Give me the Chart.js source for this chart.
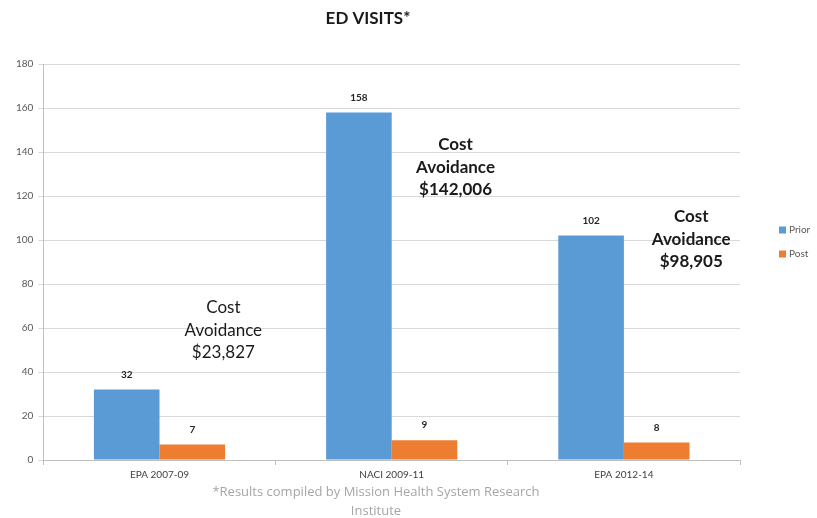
<!DOCTYPE html>
<html lang="en">
<head>
    <script src="https://cdn.jsdelivr.net/npm/chart.js"></script>
    <meta charset="UTF-8">
    <title>ED Visits</title>
    <style>
        body { margin: 0; background: #fff; }
        #wrap { width: 817px; height: 518px; }
    </style>
</head>
<body>
    <div id="wrap">
        <canvas id="myChart"></canvas>
    </div>
    <script>
        const categories = ['EPA 2007-09', 'NACI 2009-11', 'EPA 2012-14'];
        const seriesNames = ['Prior', 'Post'];
        const priorVals = [32, 158, 102];
        const postVals = [7, 9, 8];
        const savings = ['$23,827', '$142,006', '$98,905'];
        // where each "Cost Avoidance" note sits: category offset and y value of middle line
        const noteX = [0.275, 0.275, 0.29];
        const noteY = [59, 133, 100];
        const noteBold = [false, true, true];
        const colors = ['#5B9BD5', '#ED7D31'];

        const labelsPlugin = {
            id: 'labels',
            afterDatasetsDraw(chart) {
                const ctx = chart.ctx;
                const xs = chart.scales.x, ys = chart.scales.y;
                ctx.save();
                // values above bars
                ctx.fillStyle = '#262626';
                ctx.font = 'bold 10px Lato';
                ctx.textAlign = 'center';
                ctx.textBaseline = 'middle';
                chart.data.datasets.forEach((ds, i) => {
                    chart.getDatasetMeta(i).data.forEach((bar, j) => {
                        ctx.fillText(ds.data[j], bar.x, bar.y - 15);
                    });
                });
                // cost avoidance notes
                ctx.fillStyle = '#1a1a1a';
                savings.forEach((s, i) => {
                    const x = xs.getPixelForValue(i + noteX[i]);
                    const y = ys.getPixelForValue(noteY[i]);
                    ctx.font = (noteBold[i] ? 'bold ' : '') + '17px Lato';
                    ctx.fillText('Cost', x, y - 23);
                    ctx.fillText('Avoidance', x, y);
                    ctx.fillText(s, x, y + 22);
                });
                // legend
                ctx.textAlign = 'left';
                ctx.font = '10px Lato';
                seriesNames.forEach((n, i) => {
                    const y = 230 + i * 24;
                    ctx.fillStyle = colors[i];
                    ctx.fillRect(779, y - 3.5, 7, 7);
                    ctx.fillStyle = '#595959';
                    ctx.fillText(n, 789, y);
                });
                // title and footnote
                ctx.textAlign = 'center';
                ctx.font = 'bold 17px Lato';
                ctx.fillStyle = '#1a1a1a';
                ctx.fillText('ED VISITS*', 368, 19);
                ctx.font = '13px Open Sans';
                ctx.fillStyle = '#a6a6a6';
                ctx.fillText('*Results compiled by Mission Health System Research', 376, 492);
                ctx.fillText('Institute', 376, 511);
                ctx.restore();
            }
        };

        const ctx = document.getElementById('myChart');
        new Chart(ctx, {
            type: 'bar',
            data: {
                labels: categories,
                datasets: [{
                    label: seriesNames[0],
                    data: priorVals,
                    backgroundColor: colors[0],
                    barPercentage: 1,
                    categoryPercentage: 0.565
                }, {
                    label: seriesNames[1],
                    data: postVals,
                    backgroundColor: colors[1],
                    barPercentage: 1,
                    categoryPercentage: 0.565
                }]
            },
            options: {
                responsive: true,
                maintainAspectRatio: false,
                animation: false,
                layout: {
                    padding: { top: 64, left: 11, right: 77, bottom: 33 }
                },
                scales: {
                    x: {
                        grid: {
                            offset: true,
                            drawOnChartArea: false,
                            tickLength: 5,
                            color: '#bfbfbf'
                        },
                        border: { color: '#bfbfbf' },
                        ticks: {
                            color: '#404040',
                            font: { family: 'Lato', size: 10 },
                            padding: 4
                        }
                    },
                    y: {
                        min: 0,
                        max: 180,
                        ticks: {
                            stepSize: 20,
                            color: '#595959',
                            font: { family: 'Lato', size: 10 },
                            padding: 5
                        },
                        grid: {
                            color: '#d9d9d9',
                            tickLength: 5
                        },
                        border: { color: '#bfbfbf' }
                    }
                },
                plugins: {
                    legend: { display: false },
                    tooltip: { enabled: false }
                }
            },
            plugins: [labelsPlugin]
        });
    </script>
</body>
</html>
